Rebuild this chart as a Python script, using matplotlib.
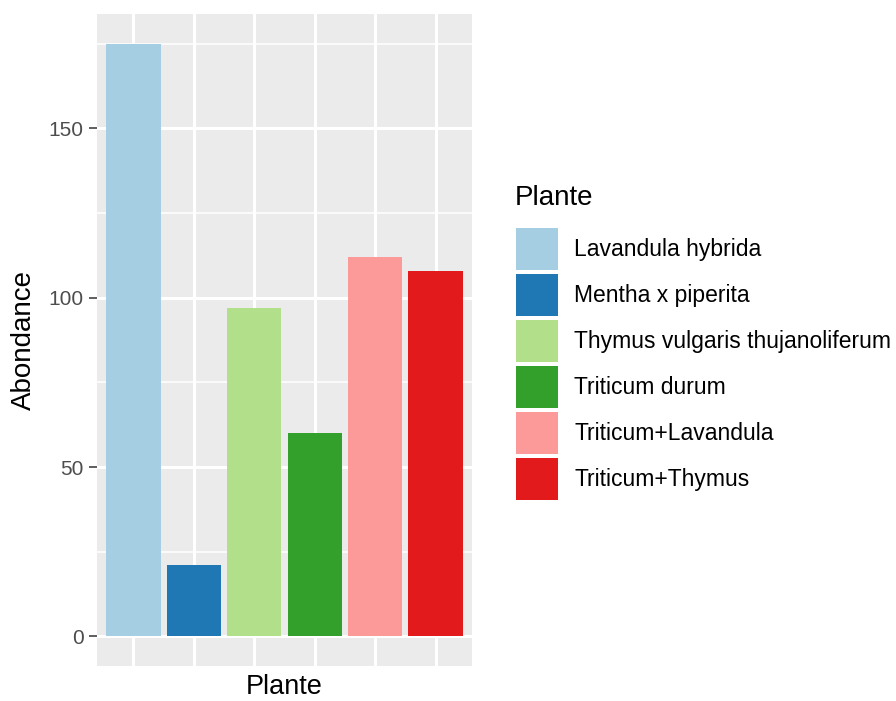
import matplotlib

matplotlib.use("Agg")
import matplotlib.pyplot as plt
import numpy as np
from matplotlib.patches import Patch

plt.rcParams["font.family"] = ["Liberation Sans", "DejaVu Sans"]

# data
plantes = [
    "Lavandula hybrida",
    "Mentha x piperita",
    "Thymus vulgaris thujanoliferum",
    "Triticum durum",
    "Triticum+Lavandula",
    "Triticum+Thymus",
]
abondance = [175, 21, 97, 60, 112, 108]
couleurs = ["#A6CEE3", "#1F78B4", "#B2DF8A", "#33A02C", "#FB9A99", "#E31A1C"]
y_major = [0, 50, 100, 150]
y_minor = [25, 75, 125, 175]

W, H = 896, 701
fig = plt.figure(figsize=(W / 100, H / 100), dpi=100)
left, right, top, bottom = 97, 472, 14, 666
ax = fig.add_axes([left / W, 1 - bottom / H, (right - left) / W, (bottom - top) / H])

x = np.arange(len(plantes))
ax.set_facecolor("#EBEBEB")
ax.set_axisbelow(True)
ax.bar(x, abondance, width=0.9, color=couleurs, linewidth=0, zorder=2)

ymax = max(abondance)
ax.set_ylim(-0.05 * ymax, ymax * 1.05)
ax.set_xlim(-0.6, len(plantes) - 0.4)

ax.set_yticks(y_major)
ax.set_yticks(y_minor, minor=True)
ax.set_xticks(x)
ax.set_xticklabels([""] * len(x))
ax.tick_params(axis="x", length=0)
ax.tick_params(axis="y", which="major", length=5.8, width=1.1, color="#333333",
               labelcolor="#4D4D4D", labelsize=15, pad=4)
ax.tick_params(axis="y", which="minor", length=0)

ax.grid(True, which="major", color="white", linewidth=2.2)
ax.grid(True, which="minor", axis="y", color="white", linewidth=1.1)
for spine in ax.spines.values():
    spine.set_visible(False)

ax.set_ylabel("Abondance", fontsize=20, labelpad=8)
ax.set_xlabel("Plante", fontsize=19.5, labelpad=2)

# legend: title drawn separately so the gap to the keys matches ggplot
fig.text(515 / W, 1 - 198 / H, "Plante", fontsize=20, ha="left", va="center")
handles = [Patch(facecolor=c, edgecolor="none") for c in couleurs]
leg = fig.legend(
    handles,
    plantes,
    loc="upper left",
    bbox_to_anchor=(516 / W, 1 - 228 / H),
    frameon=False,
    fontsize=16.5,
    handlelength=1.83,
    handleheight=2.445,
    handletextpad=0.72,
    labelspacing=0.17,
    borderpad=0,
    borderaxespad=0,
)

fig.savefig("out.png", dpi=100)
